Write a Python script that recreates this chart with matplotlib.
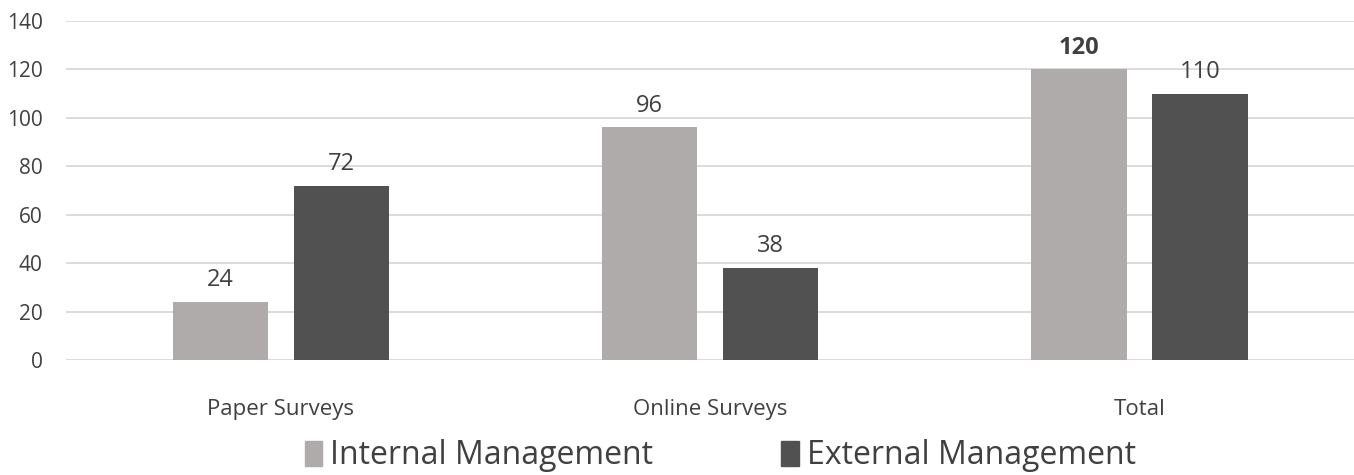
import numpy as np
import matplotlib.pyplot as plt
from matplotlib.patches import Patch

plt.rcParams['font.family'] = ['Open Sans', 'DejaVu Sans']

categories = ['Paper Surveys', 'Online Surveys', 'Total']
internal = [24, 96, 120]
external = [72, 38, 110]
series_names = ['Internal Management', 'External Management']

c_int = '#AFABAB'
c_ext = '#515151'
txt = '#404040'

fig = plt.figure(figsize=(13.54, 4.75), dpi=100)
ax = fig.add_axes([0.049, 0.242, 0.951, 0.714])

x = np.arange(len(categories))
w = 0.222
off = 0.141
b1 = ax.bar(x - off, internal, w, color=c_int, zorder=3)
b2 = ax.bar(x + off, external, w, color=c_ext, zorder=3)

for i, (bars, vals) in enumerate([(b1, internal), (b2, external)]):
    for rect, v in zip(bars, vals):
        bold = (i == 0 and v == max(internal + external))
        ax.text(rect.get_x() + rect.get_width() / 2, v + 4, str(v),
                ha='center', va='bottom', fontsize=17, color=txt,
                fontweight='bold' if bold else 'normal')

ax.set_xlim(-0.5, 2.5)
ax.set_ylim(0, 140)
ax.set_yticks(range(0, 141, 20))
ax.set_xticks(x)
ax.set_xticklabels(categories)
ax.tick_params(axis='both', length=0, colors=txt)
ax.tick_params(axis='x', labelsize=16, pad=28)
ax.tick_params(axis='y', labelsize=15, pad=17)
ax.grid(axis='y', color='#D9D9D9', linewidth=1.3, zorder=0)
for s in ax.spines.values():
    s.set_visible(False)

handles = [Patch(color=c_int), Patch(color=c_ext)]
fig.legend(handles, series_names, loc='center', bbox_to_anchor=(0.532, 0.04),
           ncol=2, frameon=False, fontsize=23, labelcolor=txt,
           handlelength=0.55, handleheight=0.8, handletextpad=0.25,
           columnspacing=4.0)

fig.savefig('out.png', dpi=100)
